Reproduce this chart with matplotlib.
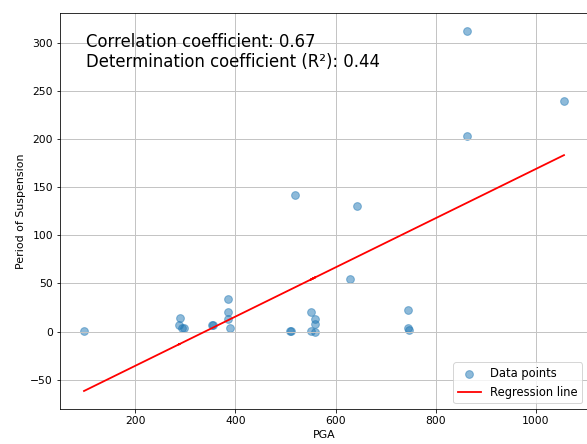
import matplotlib
matplotlib.use("Agg")
import matplotlib.pyplot as plt
import numpy as np

# PGA vs period of suspension
pga = [98, 289, 287, 293, 297, 353, 355, 385, 385, 386, 390, 510, 512,
       520, 551, 559, 559, 551, 559, 629, 642, 744, 744, 746, 862, 862, 1056]
period = [1, 14.5, 6.5, 4, 3.5, 6.5, 6.5, 34, 20, 13.5, 4, 1, 1,
          142, 20.5, 13.5, 8, 1, 0, 54.5, 130.5, 22, 4, 2, 312.5, 203.5, 239.5]
corr_text = "Correlation coefficient: 0.67"
det_text = "Determination coefficient (R²): 0.44"

x = np.array(pga, dtype=float)
y = np.array(period, dtype=float)
slope, intercept = np.polyfit(x, y, 1)
pred = slope * x + intercept

plt.rcParams["font.size"] = 11
fig = plt.figure(figsize=(587 / 72, 444 / 72), dpi=72)
ax = fig.add_axes([60 / 587, 35 / 444, 528 / 587, 396.3 / 444])

ax.scatter(x, y, s=60, alpha=0.5, label="Data points")
ax.plot(x, pred, color="red", lw=1.8, label="Regression line")
ax.set_xlabel("PGA")
ax.set_ylabel("Period of Suspension")
ax.tick_params(labelsize=10.8)
ax.grid(True, color="#c4c4c4", lw=1)
ax.legend(loc="lower right", fontsize=11.5)
ax.text(0.05, 0.95, corr_text + "\n" + det_text, transform=ax.transAxes,
        fontsize=16.5, va="top")

fig.savefig("out.png", dpi=72)
